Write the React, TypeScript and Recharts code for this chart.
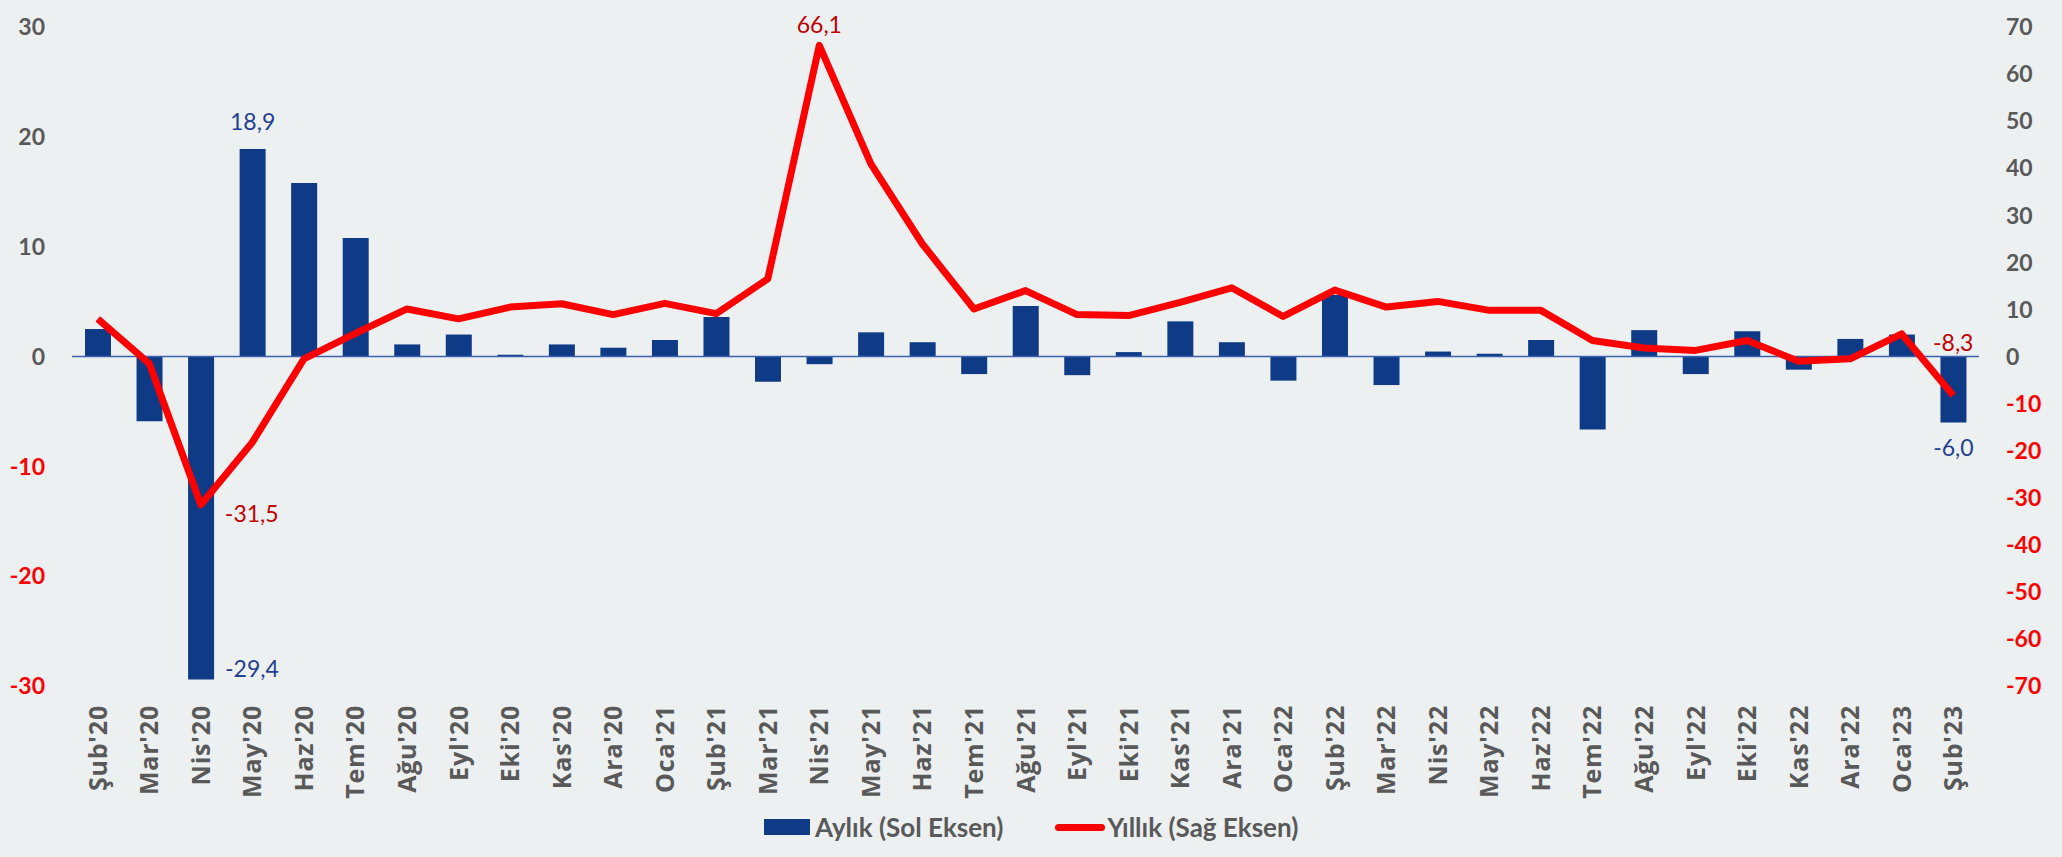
import { ComposedChart, Bar, Line, XAxis, YAxis, ReferenceLine, LabelList } from 'recharts';

const months = [
  "Şub'20", "Mar'20", "Nis'20", "May'20", "Haz'20", "Tem'20", "Ağu'20", "Eyl'20", "Eki'20", "Kas'20", "Ara'20", "Oca'21",
  "Şub'21", "Mar'21", "Nis'21", "May'21", "Haz'21", "Tem'21", "Ağu'21", "Eyl'21", "Eki'21", "Kas'21", "Ara'21", "Oca'22",
  "Şub'22", "Mar'22", "Nis'22", "May'22", "Haz'22", "Tem'22", "Ağu'22", "Eyl'22", "Eki'22", "Kas'22", "Ara'22", "Oca'23",
  "Şub'23",
];

// aylık değişim (sol eksen)
const monthly = [
  2.5, -5.9, -29.4, 18.9, 15.8, 10.8, 1.1, 2.0, 0.15, 1.1, 0.8, 1.5,
  3.6, -2.3, -0.7, 2.2, 1.3, -1.6, 4.6, -1.7, 0.4, 3.2, 1.3, -2.2,
  5.6, -2.6, 0.45, 0.25, 1.5, -6.65, 2.4, -1.6, 2.3, -1.2, 1.6, 2.0,
  -6.0,
];

// yıllık değişim (sağ eksen)
const annual = [
  8.0, -1.5, -31.5, -18.2, -0.5, 4.9, 10.1, 8.0, 10.5, 11.2, 8.9, 11.3,
  9.1, 16.5, 66.1, 40.9, 23.9, 10.1, 14.0, 8.9, 8.7, 11.5, 14.6, 8.5,
  14.1, 10.5, 11.7, 9.8, 9.8, 3.4, 1.8, 1.3, 3.4, -1.0, -0.5, 4.8,
  -8.3,
];

const leftTicks = [-30, -20, -10, 0, 10, 20, 30];
const rightTicks = [-70, -60, -50, -40, -30, -20, -10, 0, 10, 20, 30, 40, 50, 60, 70];

const data = months.map((m, i) => ({ month: m, aylik: monthly[i], yillik: annual[i] }));

const BLUE = '#0E3A86';
const RED = '#FF0000';
const GRAY = '#595959';
const FONT = 'Lato, "Noto Sans", sans-serif';

const fmt = (v: number) => v.toFixed(1).replace('.', ',');

const LeftTick = ({ y, payload }: any) => (
  <text x={45} y={y} dy="0.36em" textAnchor="end" fontFamily={FONT} fontWeight={700} fontSize={23}
    fill={payload.value < 0 ? RED : GRAY}>
    {payload.value}
  </text>
);

const RightTick = ({ y, payload }: any) => (
  <text x={2006} y={y} dy="0.36em" textAnchor="start" fontFamily={FONT} fontWeight={700} fontSize={23}
    fill={payload.value < 0 ? RED : GRAY}>
    {payload.value}
  </text>
);

const MonthTick = ({ x, payload }: any) => (
  <g transform={`translate(${x},705) rotate(-90)`}>
    <text x={0} y={0} dy="0.36em" textAnchor="end" fill={GRAY} fontFamily="Open Sans" fontWeight={700}
      fontSize={25} letterSpacing={0.8}>
      {payload.value}
    </text>
  </g>
);

const barLabel = (props: any) => {
  const { x, y, width, height, value, index } = props;
  const top = Math.min(y, y + height);
  const bottom = Math.max(y, y + height);
  const cx = x + width / 2;
  const common = { fontFamily: FONT, fontSize: 23, fill: '#1F3F8F', dy: '0.36em' };
  if (index === 3) return <text x={cx} y={top - 27} textAnchor="middle" {...common}>{fmt(value)}</text>;
  if (index === 2) return <text x={cx + 24} y={bottom - 11} textAnchor="start" {...common}>{fmt(value)}</text>;
  if (index === 36) return <text x={cx} y={bottom + 25} textAnchor="middle" {...common}>{fmt(value)}</text>;
  return null;
};

const lineLabel = (props: any) => {
  const { x, y, value, index } = props;
  const common = { fontFamily: FONT, fontSize: 23, fill: '#C00000', dy: '0.36em' };
  if (index === 14) return <text x={x} y={y - 21} textAnchor="middle" {...common}>{fmt(value)}</text>;
  if (index === 2) return <text x={x + 24} y={y + 9} textAnchor="start" {...common}>{fmt(value)}</text>;
  if (index === 36) return <text x={x} y={y - 53} textAnchor="middle" {...common}>{fmt(value)}</text>;
  return null;
};

export default function App() {
  return (
    <div style={{ position: 'relative', width: 2062, height: 857, background: '#ECF0F1' }}>
      <style>{'body{margin:0}'}</style>
      <ComposedChart width={2062} height={857} data={data} margin={{ top: 27, right: 0, bottom: 61, left: 0 }}>
        <XAxis dataKey="month" height={110} axisLine={false} tickLine={false} interval={0} tick={<MonthTick />} />
        <YAxis yAxisId="left" width={72} domain={[-30, 30]} ticks={leftTicks} axisLine={false} tickLine={false}
          tick={<LeftTick />} />
        <YAxis yAxisId="right" orientation="right" width={83} domain={[-70, 70]} ticks={rightTicks}
          axisLine={false} tickLine={false} tick={<RightTick />} />
        <ReferenceLine yAxisId="left" y={0} stroke="#3A62AE" strokeWidth={1.5} />
        <Bar yAxisId="left" dataKey="aylik" fill={BLUE} barSize={26} isAnimationActive={false}>
          <LabelList dataKey="aylik" content={barLabel} />
        </Bar>
        <Line yAxisId="right" dataKey="yillik" stroke={RED} strokeWidth={7} dot={false} strokeLinejoin="round"
          isAnimationActive={false}>
          <LabelList dataKey="yillik" content={lineLabel} />
        </Line>
      </ComposedChart>
      <div style={{ position: 'absolute', top: 811, left: 764, display: 'flex', alignItems: 'center',
        fontFamily: FONT, fontWeight: 700, fontSize: 26, lineHeight: '32px', color: GRAY }}>
        <span style={{ display: 'inline-block', width: 46, height: 16, background: BLUE, marginRight: 5 }} />
        <span>Aylık (Sol Eksen)</span>
        <span style={{ display: 'inline-block', width: 50, height: 7, borderRadius: 4, background: RED,
          marginLeft: 52, marginRight: 2 }} />
        <span>Yıllık (Sağ Eksen)</span>
      </div>
    </div>
  );
}
